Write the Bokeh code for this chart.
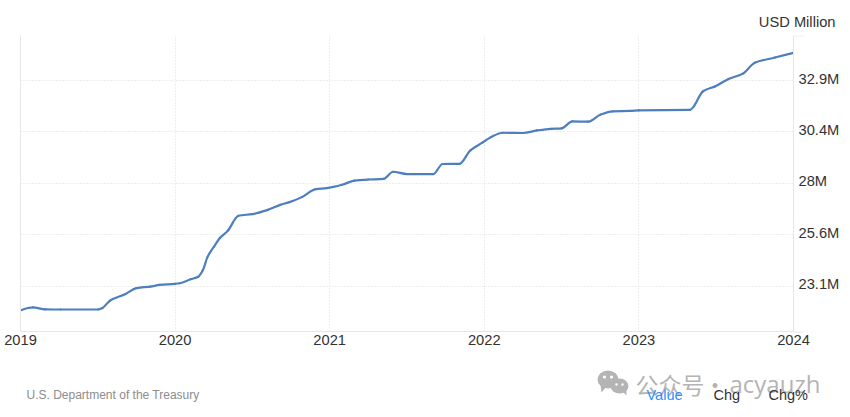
from bokeh.embed import file_html
from bokeh.resources import INLINE
from bokeh.plotting import figure
from bokeh.core.properties import value
from bokeh.models import FixedTicker, LinearAxis, Range1d

dates = [2019.00,2019.05,2019.08,2019.16,2019.26,2019.50,2019.53,2019.58,2019.68,2019.75,2019.84,2019.90,
         2020.00,2020.03,2020.10,2020.15,2020.18,2020.21,2020.25,2020.29,2020.34,2020.41,2020.50,2020.60,
         2020.68,2020.74,2020.82,2020.91,2020.98,2021.08,2021.16,2021.25,2021.35,2021.41,2021.50,2021.67,
         2021.73,2021.84,2021.91,2021.99,2022.04,2022.12,2022.25,2022.34,2022.43,2022.50,2022.57,2022.67,
         2022.75,2022.83,2022.945,2023.00,2023.33,2023.355,2023.415,2023.495,2023.58,2023.67,2023.75,2023.88,2024.00]
values = [21.94,22.05,22.08,21.99,21.98,21.98,22.05,22.41,22.72,23.00,23.07,23.15,
          23.20,23.23,23.42,23.54,23.86,24.49,24.96,25.39,25.73,26.45,26.53,26.73,
          26.97,27.10,27.34,27.72,27.77,27.93,28.13,28.18,28.21,28.55,28.44,28.44,
          28.92,28.93,29.57,29.95,30.19,30.41,30.40,30.52,30.60,30.62,30.95,30.94,
          31.27,31.43,31.45,31.48,31.50,31.67,32.39,32.63,32.98,33.22,33.75,34.00,34.22]
x_ticks = [2019, 2020, 2021, 2022, 2023, 2024]
y_ticks = [23.1, 25.55, 28.0, 30.45, 32.9]
y_labels = ["23.1M", "25.6M", "28M", "30.4M", "32.9M"]
y_top = 35.05
y_bottom = 20.93
unit = "USD Million"
source = "U.S. Department of the Treasury"
legend_items = [("Value", 646, "#2e8fff"), ("Chg", 713, "#333333"), ("Chg%", 768, "#333333")]
wm_cn, wm_dot, wm_latin = "公众号", "·", "acyauzh"

FONT = "Liberation Sans"
GRID = "#e6e6e6"
WM = "#b4b4b4"
W, H = 848, 415
FL, FR, FT, FB = 20, 793, 35, 331
LABEL_LIFT = 2 * (y_top - y_bottom) / (FB - FT)  # tick labels sit 2px above their gridlines

# page-wide layer in pixel coordinates: texts around the plot and the watermark
bg = figure(width=W, height=H, output_backend="svg", toolbar_location=None,
            x_range=Range1d(0, W), y_range=Range1d(H, 0), min_border=0,
            x_axis_location=None, y_axis_location=None)
bg.outline_line_color = None
bg.grid.visible = False

def txt(text, x, y, size, color, font=FONT, align="left"):
    bg.text(x=[x], y=[y], text=[text], text_font=value(font), text_font_size=value(size),
            text_color=color, text_align=align, text_baseline="middle")

bg.segment(x0=[FR, FR], x1=[803, 803], y0=[FB + 0.5, FT + 0.5], y1=[FB + 0.5, FT + 0.5],
           line_color=[GRID, "#eeeeee"], line_width=1)

txt(unit, 835, 21, "14.7px", "#333333", align="right")
txt(source, 26, 394.5, "12px", "#8c8c8c")

bg.ellipse(x=[607.5, 619], y=[379, 385.5], width=[21, 18], height=[18, 15], fill_color=WM, line_color=None)
bg.patches(xs=[[600, 606, 601], [621, 626, 626]], ys=[[384, 386, 392], [390, 389, 395]], fill_color=WM, line_color=None)
bg.circle(x=[604, 611, 616, 622], y=[376.5, 376.5, 384, 384], radius=[1.6, 1.6, 1.2, 1.2], fill_color="#ffffff", line_color=None)
txt(wm_cn, 635, 383, "23px", WM, font="Noto Sans CJK SC")
txt(wm_dot, 703, 383, "23px", WM, font="Noto Sans CJK SC")
txt(wm_latin, 729, 383, "24px", WM, font="Open Sans")

for text, x, color in legend_items:
    txt(text, x, 394, "14.5px", color)

# the chart, on top of that layer
p = figure(width=W, height=H, output_backend="svg", toolbar_location=None,
           x_range=Range1d(2019, 2024), y_range=Range1d(y_bottom, y_top),
           y_axis_location="right", min_border_left=FL, min_border_right=W - FR,
           min_border_top=FT, min_border_bottom=H - FB, margin=(-H, 0, 0, 0),
           background_fill_color=None, border_fill_color=None)
p.outline_line_color = None
p.extra_y_ranges = {"labels": Range1d(y_bottom - LABEL_LIFT, y_top - LABEL_LIFT)}

left = LinearAxis(ticker=FixedTicker(ticks=[]), axis_line_color=GRID, major_tick_line_color=None,
                  minor_tick_line_color=None, major_label_text_color=None)
p.add_layout(left, "left")

right = p.right[0]
right.y_range_name = "labels"
p.xaxis.ticker = FixedTicker(ticks=x_ticks)
p.xaxis.major_label_overrides = {t: str(t) for t in x_ticks}
right.ticker = FixedTicker(ticks=y_ticks)
right.major_label_overrides = dict(zip(y_ticks, y_labels))
for ax in (p.below[0], right):
    ax.axis_line_color = GRID
    ax.axis_line_width = 1
    ax.major_tick_line_color = None
    ax.minor_tick_line_color = None
    ax.major_tick_out = 0
    ax.major_tick_in = 0
    ax.minor_tick_out = 0
    ax.major_label_text_font = FONT
    ax.major_label_text_font_size = "14.7px"
    ax.major_label_text_color = "#333333"
p.below[0].major_label_standoff = 3
right.major_label_standoff = 5

p.xgrid.ticker = FixedTicker(ticks=x_ticks[1:-1])
p.ygrid.ticker = FixedTicker(ticks=y_ticks + [y_top])
for g in (p.xgrid[0], p.ygrid[0]):
    g.grid_line_color = "#dddddd"
    g.grid_line_dash = "1 2"
    g.grid_line_width = 1

# smooth curve through the read points: monotone tangents, drawn as bezier segments
n = len(dates)
h = [dates[i + 1] - dates[i] for i in range(n - 1)]
s = [(values[i + 1] - values[i]) / h[i] for i in range(n - 1)]
m = [s[0]] + [0.0 if s[i - 1] * s[i] <= 0 else 2 * s[i - 1] * s[i] / (s[i - 1] + s[i]) for i in range(1, n - 1)] + [s[-1]]
p.bezier(x0=dates[:-1], y0=values[:-1], x1=dates[1:], y1=values[1:],
         cx0=[dates[i] + h[i] / 3 for i in range(n - 1)],
         cy0=[values[i] + m[i] * h[i] / 3 for i in range(n - 1)],
         cx1=[dates[i + 1] - h[i] / 3 for i in range(n - 1)],
         cy1=[values[i + 1] - m[i + 1] * h[i] / 3 for i in range(n - 1)],
         line_color="#4d7fbf", line_width=2.2, line_cap="round")

open("out.html", "w").write(file_html([bg, p], INLINE))
